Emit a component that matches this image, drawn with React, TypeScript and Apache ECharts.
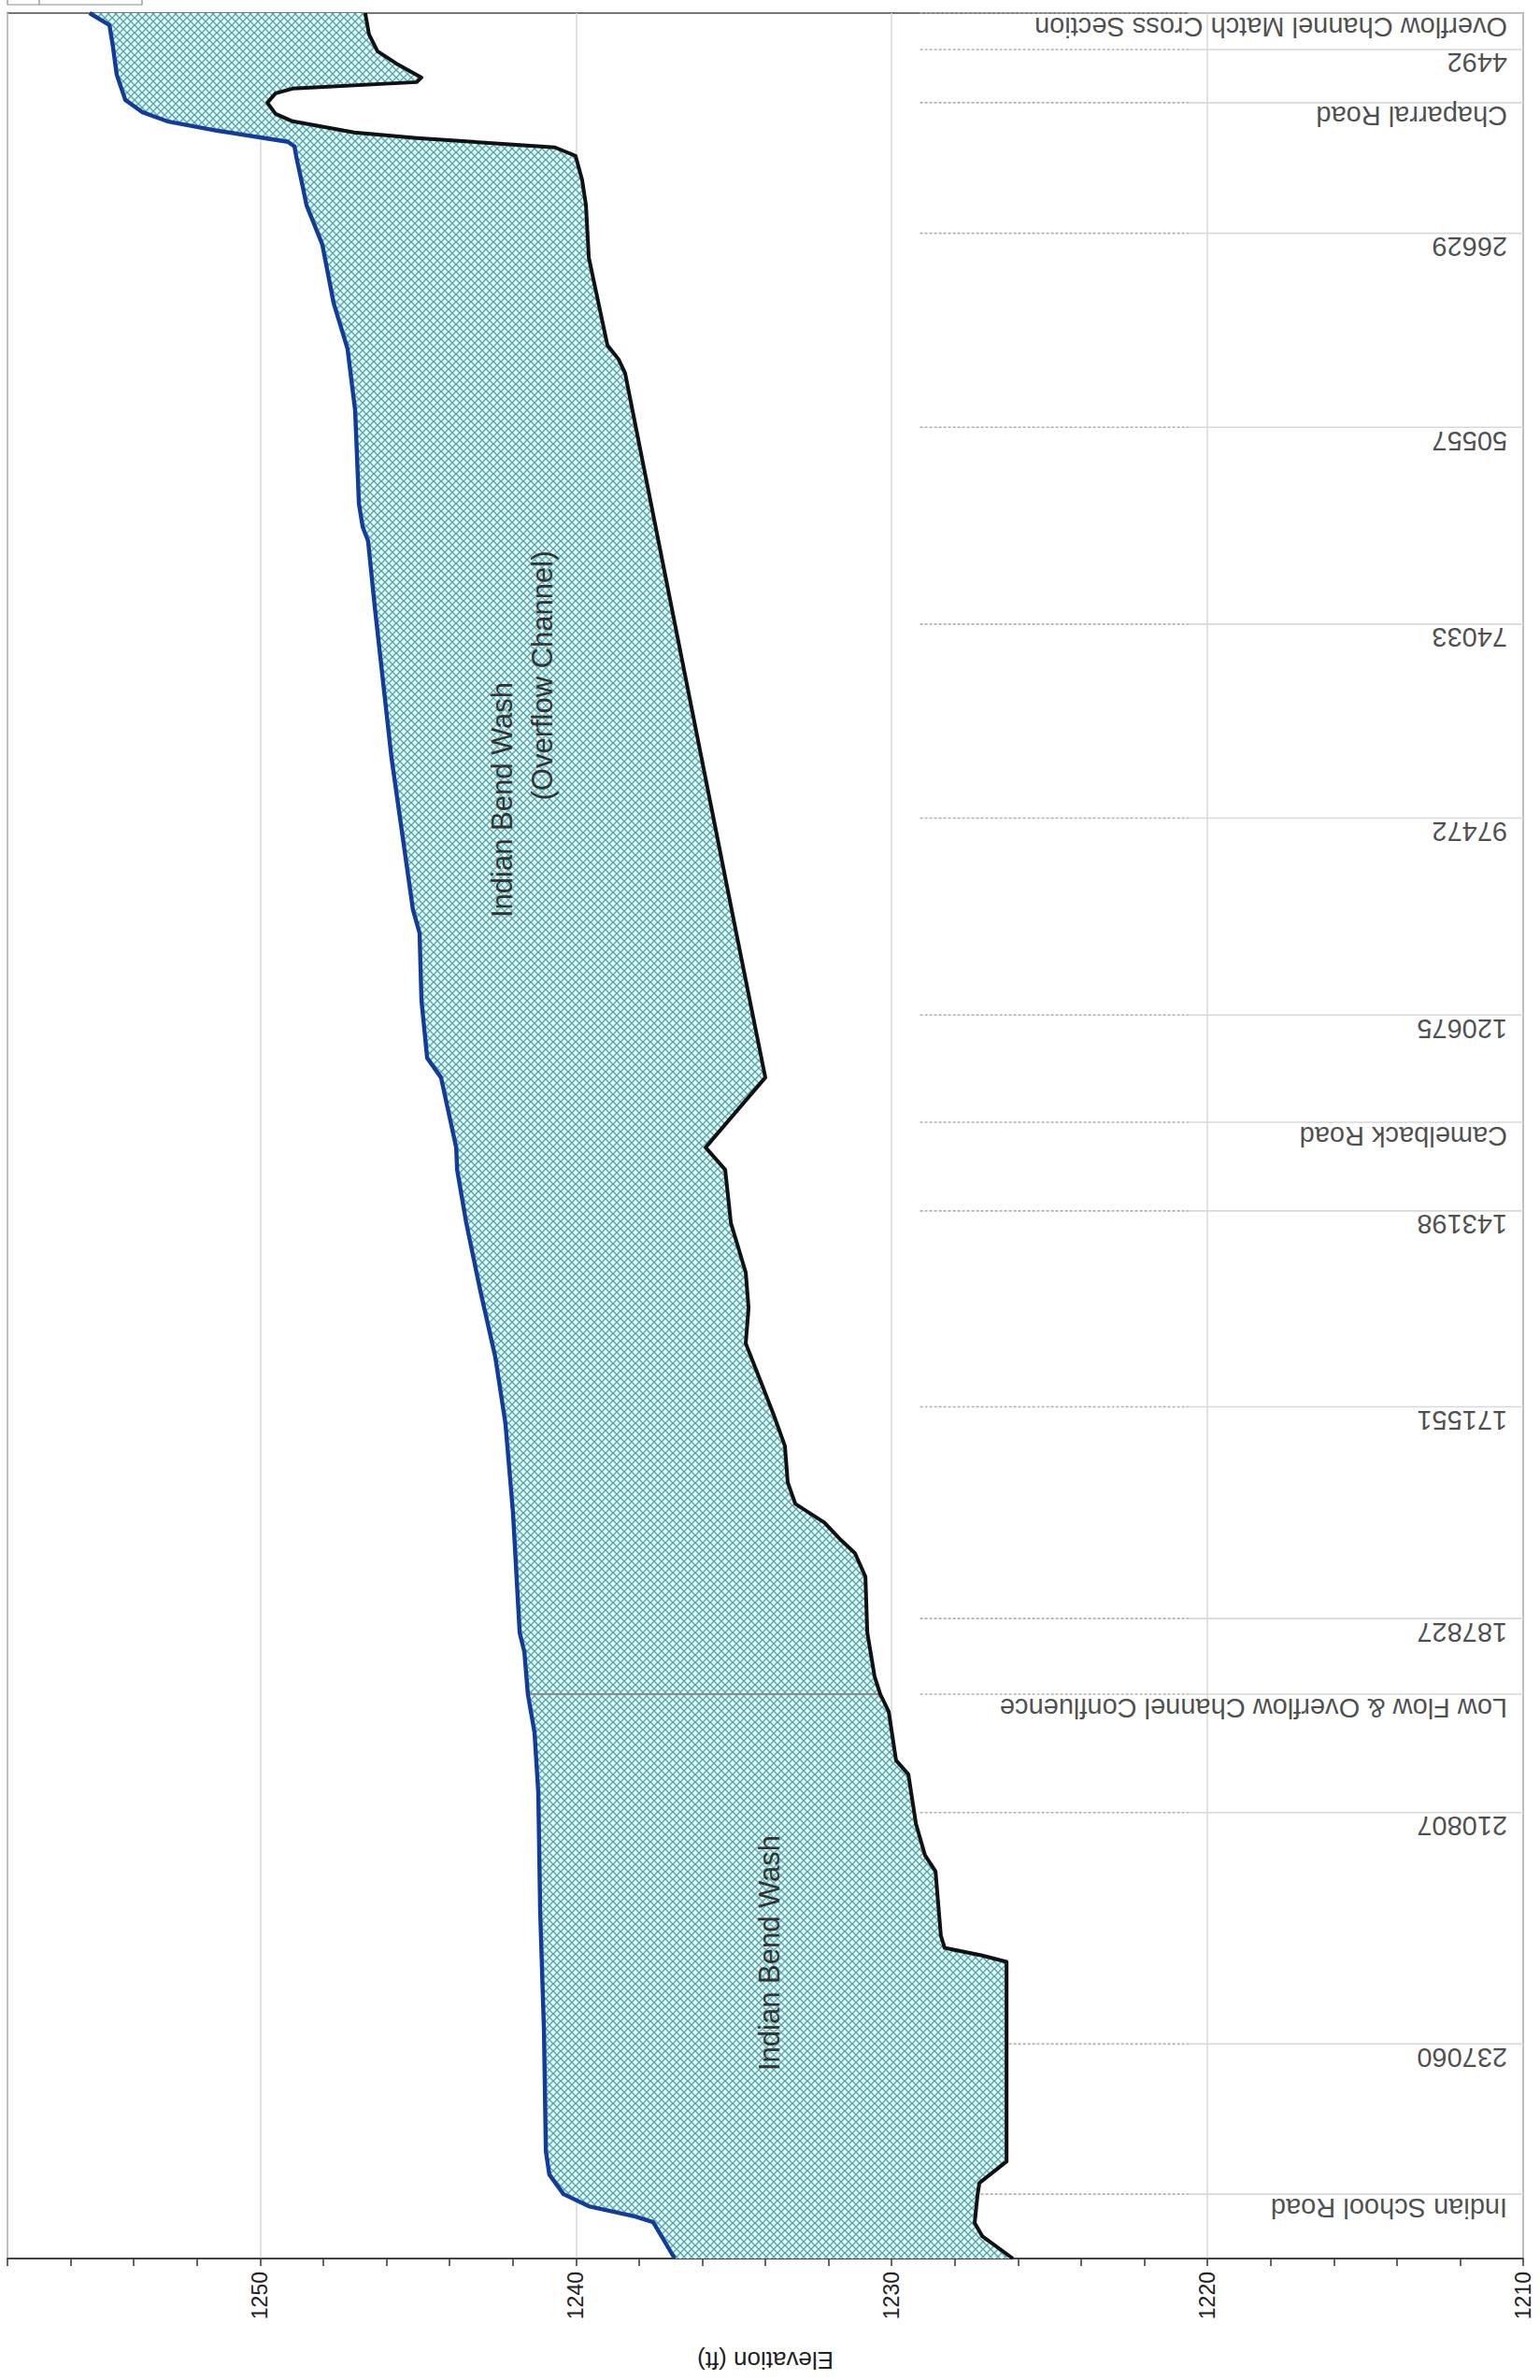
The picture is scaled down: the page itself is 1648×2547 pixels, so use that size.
import React, { useEffect, useRef } from "react";
import * as echarts from "echarts";

// Distance along the plotted profile (plot units, 0 = Indian School Road end) and elevation (ft)
const waterSurface: [number, number][] = [
  [2407, 1255.4], [2394, 1254.77], [2371, 1254.66], [2341, 1254.54], [2314, 1254.27],
  [2301, 1253.74], [2291, 1252.94], [2281, 1251.37], [2269, 1249.12], [2264, 1248.91],
  [2254, 1248.86], [2221, 1248.65], [2201, 1248.53], [2159, 1248.03], [2096, 1247.67],
  [2047, 1247.23], [1981, 1246.99], [1881, 1246.87], [1856, 1246.75], [1841, 1246.58],
  [1771, 1246.37], [1609, 1245.84], [1446, 1245.16], [1421, 1244.95], [1349, 1244.89],
  [1287, 1244.71], [1266, 1244.27], [1191, 1243.79], [1167, 1243.76], [1110, 1243.47],
  [1038, 1243.03], [966, 1242.55], [895, 1242.23], [799, 1241.99], [671, 1241.78],
  [650, 1241.63], [605, 1241.52], [564, 1241.31], [500, 1241.19], [372, 1241.13],
  [244, 1241.01], [115, 1240.95], [90, 1240.84], [69, 1240.39], [56, 1239.59],
  [45, 1238.11], [39, 1237.55], [0, 1236.87],
];

const channelBed: [number, number][] = [
  [2407, 1246.67], [2384, 1246.55], [2366, 1246.28], [2353, 1245.69], [2338, 1244.89],
  [2333, 1245.04], [2326, 1248.97], [2321, 1249.51], [2311, 1249.77], [2299, 1249.51],
  [2291, 1248.97], [2279, 1247.02], [2273, 1245.04], [2263, 1240.66], [2254, 1240.01],
  [2228, 1239.8], [2201, 1239.68], [2145, 1239.59], [2051, 1239.0], [2036, 1238.65],
  [2021, 1238.44], [1421, 1234.92], [1266, 1234.0], [1191, 1235.89], [1167, 1235.27],
  [1110, 1235.09], [1057, 1234.62], [1019, 1234.53], [981, 1234.62], [943, 1234.18],
  [904, 1233.73], [871, 1233.38], [832, 1233.29], [809, 1233.05], [789, 1232.13],
  [770, 1231.6], [756, 1231.16], [731, 1230.83], [671, 1230.77], [624, 1230.54],
  [605, 1230.36], [586, 1230.09], [534, 1229.86], [519, 1229.47], [466, 1229.23],
  [432, 1228.94], [415, 1228.61], [346, 1228.44], [333, 1228.32], [325, 1227.16],
  [318, 1226.36], [104, 1226.36], [81, 1227.22], [68, 1227.28], [38, 1227.37],
  [24, 1227.13], [0, 1226.16],
];

const stationNames: string[] = [
  "Overflow Channel Match Cross Section", "4492", "Chaparral Road", "26629", "50557",
  "74033", "97472", "120675", "Camelback Road", "143198", "171551", "187827",
  "Low Flow & Overflow Channel Confluence", "210807", "237060", "Indian School Road",
];
const stationDist: number[] = [
  2407, 2368, 2311, 2171, 1963, 1752, 1544, 1333, 1218, 1123, 913, 686, 605, 478, 230, 69,
];

const CONFLUENCE = "Low Flow & Overflow Channel Confluence";
const FONT = "'Liberation Sans', Arial, Helvetica, sans-serif";

export default function App() {
  const ref = useRef<HTMLDivElement>(null);

  useEffect(() => {
    if (!ref.current) return;
    const chart = echarts.init(ref.current, null, { renderer: "svg" });

    const tile = document.createElement("canvas");
    tile.width = 8;
    tile.height = 8;
    const g = tile.getContext("2d");
    if (g) {
      g.fillStyle = "#e6f8f8";
      g.fillRect(0, 0, 8, 8);
      g.strokeStyle = "#52a7ab";
      g.lineWidth = 1.35;
      g.beginPath();
      g.moveTo(-1, -1);
      g.lineTo(9, 9);
      g.moveTo(9, -1);
      g.lineTo(-1, 9);
      g.stroke();
    }
    const hatch: any = { image: tile, repeat: "repeat", imageWidth: 8, imageHeight: 8 };

    const confDist = stationDist[stationNames.indexOf(CONFLUENCE)];
    const confTop = waterSurface.find((p) => p[0] === confDist) || [confDist, 1241.5];
    const confBot = channelBed.find((p) => p[0] === confDist) || [confDist, 1230.4];

    const option: any = {
      animation: false,
      backgroundColor: "#ffffff",
      textStyle: { fontFamily: FONT },
      grid: {
        left: 126,
        right: 14,
        top: 8,
        bottom: 18,
        show: true,
        borderColor: "#4a4a4a",
        borderWidth: 1.5,
        backgroundColor: "transparent",
      },
      xAxis: { type: "value", min: 0, max: 2407, show: false },
      yAxis: [
        {
          type: "value",
          min: 1210,
          max: 1258,
          interval: 10,
          position: "left",
          axisLine: { show: true, lineStyle: { color: "#333", width: 1.5 } },
          axisTick: { show: false },
          axisLabel: {
            fontSize: 23,
            color: "#222",
            margin: 14,
            showMaxLabel: false,
            fontFamily: FONT,
            formatter: (v: number) => String(v),
          },
          splitLine: { show: true, lineStyle: { color: "#d8d8d8", width: 1.5 } },
          name: "Elevation (ft)",
          nameLocation: "middle",
          nameRotate: 90,
          nameGap: 96,
          nameTextStyle: { fontSize: 26, color: "#222", fontFamily: FONT },
        },
        {
          type: "value",
          min: 1210,
          max: 1258,
          interval: 2,
          position: "left",
          axisLine: { show: false },
          axisTick: { show: true, inside: false, length: 8, lineStyle: { color: "#333", width: 1.5 } },
          axisLabel: { show: false },
          splitLine: { show: false },
        },
      ],
      series: [
        {
          type: "custom",
          name: "Station marks",
          z: 2,
          silent: true,
          data: stationDist.map((d) => [d, 1210]),
          encode: { x: 0, y: 1 },
          renderItem: (_p: any, api: any) => {
            const d = api.value(0);
            const a = api.coord([d, 1229.1]);
            const b = api.coord([d, 1220.6]);
            const c = api.coord([d, 1210]);
            return {
              type: "group",
              children: [
                {
                  type: "line",
                  shape: { x1: a[0], y1: a[1], x2: b[0], y2: b[1] },
                  style: { stroke: "#b0b0b0", lineWidth: 1.6, lineDash: [3, 2] },
                },
                {
                  type: "line",
                  shape: { x1: b[0], y1: b[1], x2: c[0], y2: c[1] },
                  style: { stroke: "#d9d9d9", lineWidth: 1.6 },
                },
              ],
            };
          },
        },
        {
          type: "custom",
          name: "Flow area",
          z: 3,
          silent: true,
          data: [[1200, 1235]],
          encode: { x: 0, y: 1 },
          renderItem: (_p: any, api: any) => {
            const pts = [
              ...waterSurface.map((p) => api.coord(p)),
              ...channelBed
                .slice()
                .reverse()
                .map((p) => api.coord(p)),
            ];
            return {
              type: "polygon",
              shape: { points: pts },
              style: { fill: hatch, stroke: "none" },
            };
          },
        },
        {
          type: "custom",
          name: "Confluence",
          z: 4,
          silent: true,
          data: [[confDist, confTop[1], confBot[1]]],
          encode: { x: 0, y: 1 },
          renderItem: (_p: any, api: any) => {
            const d = api.value(0);
            const a = api.coord([d, api.value(1)]);
            const b = api.coord([d, api.value(2)]);
            return {
              type: "line",
              shape: { x1: a[0], y1: a[1], x2: b[0], y2: b[1] },
              style: { stroke: "#8c8c8c", lineWidth: 2 },
            };
          },
        },
        {
          type: "line",
          name: "Channel bed",
          data: channelBed,
          showSymbol: false,
          z: 5,
          silent: true,
          lineStyle: { color: "#111111", width: 4, join: "round" },
        },
        {
          type: "line",
          name: "Water surface",
          data: waterSurface,
          showSymbol: false,
          z: 6,
          silent: true,
          lineStyle: { color: "#123b9b", width: 4.4, join: "round" },
        },
        {
          type: "scatter",
          name: "Stations",
          z: 7,
          silent: true,
          clip: false,
          symbolSize: 1,
          itemStyle: { color: "rgba(0,0,0,0)" },
          data: stationNames.map((n, i) => ({ name: n, value: [stationDist[i], 1210.5] })),
          label: {
            show: true,
            position: "inside",
            formatter: "{b}",
            rotate: 90,
            align: "left",
            verticalAlign: "bottom",
            fontSize: 29,
            color: "#1e1e1e",
            fontFamily: FONT,
          },
        },
      ],
      graphic: [
        {
          type: "text",
          x: 457,
          y: 823,
          z: 100,
          silent: true,
          style: {
            text: "Indian Bend Wash",
            fontSize: 31,
            fontFamily: FONT,
            fill: "#333",
            align: "center",
            verticalAlign: "middle",
          },
        },
        {
          type: "text",
          x: 1691,
          y: 537,
          z: 100,
          silent: true,
          style: {
            text: "Indian Bend Wash",
            fontSize: 31,
            fontFamily: FONT,
            fill: "#333",
            align: "center",
            verticalAlign: "middle",
          },
        },
        {
          type: "text",
          x: 1824,
          y: 580,
          z: 100,
          silent: true,
          style: {
            text: "(Overflow Channel)",
            fontSize: 31,
            fontFamily: FONT,
            fill: "#333",
            align: "center",
            verticalAlign: "middle",
          },
        },
        {
          type: "rect",
          z: 100,
          silent: true,
          shape: { x: 2542, y: 8, width: 8, height: 144 },
          style: { fill: "none", stroke: "#8a8a8a", lineWidth: 1.2 },
        },
        {
          type: "line",
          z: 100,
          silent: true,
          shape: { x1: 2542, y1: 42, x2: 2550, y2: 42 },
          style: { stroke: "#8a8a8a", lineWidth: 1.2 },
        },
      ],
    };

    chart.setOption(option);
    return () => chart.dispose();
  }, []);

  return (
    <div
      style={{
        position: "absolute",
        left: 0,
        top: 0,
        width: 1648,
        height: 2547,
        overflow: "hidden",
        background: "#ffffff",
      }}
    >
      <div
        ref={ref}
        style={{
          position: "absolute",
          left: 0,
          top: 0,
          width: 2547,
          height: 1648,
          transformOrigin: "0 0",
          transform: "translate(0px, 2547px) rotate(-90deg)",
        }}
      />
    </div>
  );
}
